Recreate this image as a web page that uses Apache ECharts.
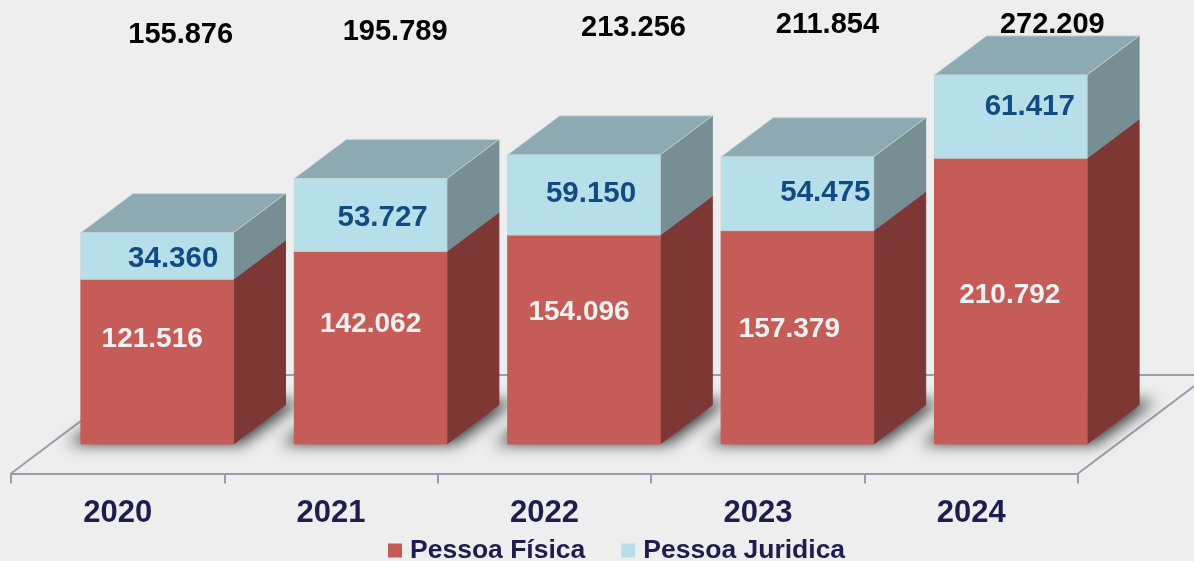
<!DOCTYPE html>
<html>
<head>
<meta charset="utf-8">
<title>Pessoa Física e Pessoa Juridica</title>
<script src="https://cdn.jsdelivr.net/npm/echarts@6/dist/echarts.min.js"></script>
<style>
	html, body { margin: 0; padding: 0; background: #eeeeee; }
	#chart { width: 1194px; height: 561px; }
</style>
</head>
<body>
<div id="chart"></div>
<script>
	var years = ["2020", "2021", "2022", "2023", "2024"];
	var pessoaFisica = [121516, 142062, 154096, 157379, 210792];
	var pessoaJuridica = [34360, 53727, 59150, 54475, 61417];
	var totais = [155876, 195789, 213256, 211854, 272209];

	// the labels in the picture sit off-centre, shift from the middle of the front face
	var shiftFisica = [[-5, -22], [0, -23], [-5, -27], [-8, -8], [-1, -6]];
	var shiftJuridica = [[16, 3], [12, 3], [7, -1], [28, -1], [19, -10]];
	var shiftTotais = [[23.5, -2], [24.5, -5], [49.5, -9], [30, -12], [41.5, -12]];

	var FONT = '"Liberation Sans", Arial, sans-serif';
	var DEPTH_X = 52;
	var DEPTH_Y = 39;
	var BAR_SHIFT = 39.5;
	var BAR_RATE = 0.715;
	var AXIS_OFFSET = 29.5;
	var LINE_COLOR = "#9b9ba9";

	function fmt(v) {
		return String(v).replace(/\B(?=(\d{3})+$)/g, ".");
	}

	function frontBox(api) {
		var w = api.size([1, 0])[0] * BAR_RATE;
		var bottom = api.coord([api.value(0), api.value(1)]);
		var top = api.coord([api.value(0), api.value(2)]);
		var cx = bottom[0] + BAR_SHIFT;
		return { l: cx - w / 2, r: cx + w / 2, cx: cx, bottom: bottom[1], top: top[1] };
	}

	function poly(points, color, stroke) {
		return {
			type: "polygon",
			shape: { points: points },
			style: { fill: color, stroke: stroke || color, lineWidth: 1 }
		};
	}

	function valueText(x, y, str, color, size) {
		return {
			type: "text",
			x: x,
			y: y,
			z2: 10,
			style: {
				text: str,
				fill: color,
				font: "bold " + size + "px " + FONT,
				textAlign: "center",
				textVerticalAlign: "middle"
			}
		};
	}

	function boxRender(colors, shifts, values, hasTop) {
		return function(params, api) {
			var b = frontBox(api);
			var i = api.value(0);
			var children = [
				poly([[b.r, b.bottom], [b.r + DEPTH_X, b.bottom - DEPTH_Y], [b.r + DEPTH_X, b.top - DEPTH_Y], [b.r, b.top]], colors.side),
				poly([[b.l, b.bottom], [b.r, b.bottom], [b.r, b.top], [b.l, b.top]], colors.front, colors.edge)
			];
			if (hasTop) {
				children.push(poly([[b.l, b.top], [b.r, b.top], [b.r + DEPTH_X, b.top - DEPTH_Y], [b.l + DEPTH_X, b.top - DEPTH_Y]], colors.top, colors.edge));
			}
			children.push(valueText(b.cx + shifts[i][0], (b.top + b.bottom) / 2 + shifts[i][1], fmt(values[i]), colors.label, colors.size));
			return { type: "group", children: children };
		};
	}

	// soft shadow on the floor, the shape itself is kept off canvas and only its blur lands on the floor
	function shadowRender(params, api) {
		var b = frontBox(api);
		var far = 3000;
		return {
			type: "polygon",
			shape: {
				points: [
					[b.l - 14 - far, b.bottom],
					[b.r + 8 - far, b.bottom],
					[b.r + DEPTH_X + 16 - far, b.bottom - DEPTH_Y - 4],
					[b.l + DEPTH_X - far, b.bottom - DEPTH_Y - 4]
				]
			},
			style: {
				fill: "#000",
				shadowColor: "rgba(55,55,55,1)",
				shadowBlur: 15,
				shadowOffsetX: far,
				shadowOffsetY: 0
			}
		};
	}

	function floorRender(params, api) {
		var g = params.coordSys;
		var yFront = g.y + g.height + AXIS_OFFSET;
		var yBack = yFront - 98.5;
		var dx = 131;
		var l = g.x;
		var r = g.x + g.width;
		var style = { stroke: LINE_COLOR, lineWidth: 2, fill: null };
		return {
			type: "group",
			children: [
				{ type: "polyline", shape: { points: [[l, yFront], [l + dx, yBack], [r + dx, yBack], [r, yFront]] }, style: style }
			]
		};
	}

	function totalRender(params, api) {
		var i = api.value(0);
		var g = params.coordSys;
		var x = api.coord([i, 0])[0] + BAR_SHIFT;
		return {
			type: "text",
			x: x + shiftTotais[i][0],
			y: g.y + shiftTotais[i][1],
			style: {
				text: fmt(totais[i]),
				fill: "#000000",
				font: "bold 29px " + FONT,
				textAlign: "center",
				textVerticalAlign: "middle"
			}
		};
	}

	var rows = years.map(function(y, i) {
		return { base: [i, 0, pessoaFisica[i]], stack: [i, pessoaFisica[i], pessoaFisica[i] + pessoaJuridica[i]] };
	});
	var baseRows = rows.map(function(r) { return r.base; });
	var stackRows = rows.map(function(r) { return r.stack; });

	var option = {
		backgroundColor: "#eeeeee",
		animation: false,
		grid: { left: 11, right: 116, top: 37.2, bottom: 117 },
		legend: {
			data: ["Pessoa Física", "Pessoa Juridica"],
			left: 383,
			top: 532,
			icon: "rect",
			itemWidth: 14,
			itemHeight: 14,
			itemGap: 36,
			textStyle: { color: "#1f1d4f", fontWeight: "bold", fontSize: 26.5, fontFamily: FONT, padding: [2, 0, 0, 3] }
		},
		xAxis: {
			type: "category",
			data: years,
			offset: AXIS_OFFSET,
			axisLine: { onZero: false, lineStyle: { color: LINE_COLOR, width: 2 } },
			axisTick: { show: true, length: 10, lineStyle: { color: LINE_COLOR, width: 2 } },
			axisLabel: { color: "#1f1d4f", fontWeight: "bold", fontSize: 31, fontFamily: FONT, margin: 24 }
		},
		yAxis: { type: "value", min: 0, max: 300000, show: false },
		series: [
			{ type: "custom", name: "piso", z: 1, clip: false, silent: true, renderItem: floorRender, encode: { x: 0, y: 1 }, data: [[0, 0, 0]] },
			{ type: "custom", name: "sombra", z: 2, clip: false, silent: true, renderItem: shadowRender, encode: { x: 0, y: [1, 2] }, data: baseRows },
			{
				type: "custom",
				name: "Pessoa Física",
				z: 3,
				clip: false,
				itemStyle: { color: "#c55c58" },
				renderItem: boxRender({ front: "#c55c58", side: "#7d3836", edge: "#c55c58", label: "#f1f1f1", size: 28 }, shiftFisica, pessoaFisica, false),
				encode: { x: 0, y: [1, 2] },
				data: baseRows
			},
			{
				type: "custom",
				name: "Pessoa Juridica",
				z: 4,
				clip: false,
				itemStyle: { color: "#b6dfe9" },
				renderItem: boxRender({ front: "#b6dfe9", side: "#778e92", top: "#8da9b1", edge: "#c3d4da", label: "#124a84", size: 29.5 }, shiftJuridica, pessoaJuridica, true),
				encode: { x: 0, y: [1, 2] },
				data: stackRows
			},
			{ type: "custom", name: "total", z: 5, clip: false, silent: true, renderItem: totalRender, encode: { x: 0, y: 1 }, data: baseRows }
		]
	};

	var myChart = echarts.init(document.getElementById("chart"));
	myChart.setOption(option);
</script>
</body>
</html>
